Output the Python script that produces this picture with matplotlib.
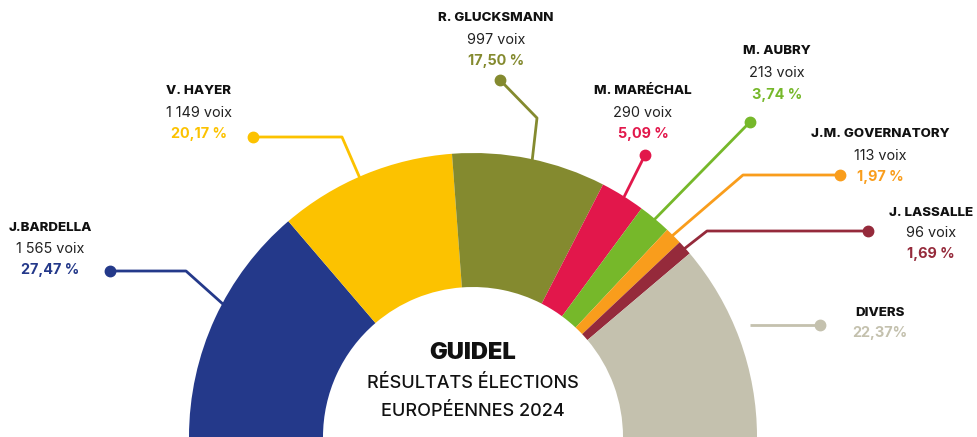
import matplotlib
matplotlib.use("Agg")
import matplotlib.pyplot as plt
from matplotlib.patches import Wedge

# ---- data ----
candidats = ["J.BARDELLA", "V. HAYER", "R. GLUCKSMANN", "M. MARÉCHAL",
             "M. AUBRY", "J.M. GOVERNATORY", "J. LASSALLE", "DIVERS"]
voix = ["1 565", "1 149", "997", "290", "213", "113", "96", None]
pourcentages = [27.47, 20.17, 17.50, 5.09, 3.74, 1.97, 1.69, 22.37]
pct_labels = ["27,47 %", "20,17 %", "17,50 %", "5,09 %", "3,74 %", "1,97 %", "1,69 %", "22,37%"]
couleurs = ["#24398a", "#fcc200", "#848a2f", "#e2174b", "#76b82a", "#f99d1c", "#952a3b", "#c4c1ae"]
titre = "GUIDEL"
sous_titre = ["RÉSULTATS ÉLECTIONS", "EUROPÉENNES 2024"]

W, H = 978, 437
fig = plt.figure(figsize=(W / 100, H / 100), dpi=100)
ax = fig.add_axes([0, 0, 1, 1])
ax.set_xlim(0, W)
ax.set_ylim(H, 0)  # image coordinates (y down)
ax.axis("off")

FONT = ["Inter", "DejaVu Sans"]

# ---- half donut ----
cx, cy = 473, 437
r_out, r_in = 284, 150
total = sum(pourcentages)
start = 180.0
for p, c in zip(pourcentages, couleurs):
    span = 180.0 * p / total
    t1 = -(start)
    t2 = -(start - span)
    ax.add_patch(Wedge((cx, cy), r_out, t1, t2, width=r_out - r_in,
                       facecolor=c, edgecolor="none", zorder=2))
    start -= span

# ---- leader lines (image px) ----
leaders = [
    [(110, 271), (186, 271), (224, 305)],
    [(253, 137), (342, 137), (362, 183)],
    [(500, 80), (537, 118), (532, 162)],
    [(645, 155), (624, 197)],
    [(750, 122), (651, 223)],
    [(840, 175), (743, 175), (672, 236)],
    [(868, 231), (707, 231), (684, 249)],
    [(820, 325), (750, 325)],
]
for pts, c in zip(leaders, couleurs):
    xs = [p[0] for p in pts]
    ys = [p[1] for p in pts]
    ax.plot(xs, ys, color=c, lw=2.0, zorder=1, solid_capstyle="butt")
    ax.plot(xs[0], ys[0], "o", color=c, ms=7.5, zorder=3)

# ---- labels ----
label_pos = [
    (50, 228, 249, 270),
    (199, 91, 113, 134),
    (496, 18, 40, 61),
    (643, 91, 113, 134),
    (777, 51, 73, 95),
    (880, 134, 156, 177),
    (931, 213, 233, 254),
    (880, 313, None, 333),
]
for (x, yn, yv, yp), nom, v, pl, c in zip(label_pos, candidats, voix, pct_labels, couleurs):
    ax.text(x, yn, nom, ha="center", va="center", fontsize=9.6,
            fontweight="heavy", color="#111111", family=FONT)
    if v is not None:
        ax.text(x, yv, f"{v} voix", ha="center", va="center", fontsize=10.4,
                color="#222222", family=FONT)
    ax.text(x, yp, pl, ha="center", va="center", fontsize=10.4,
            fontweight="bold", color=c, family=FONT)

ax.text(cx, 353, titre, ha="center", va="center", fontsize=17,
        fontweight="black", color="#111111", family=FONT)
ax.text(cx, 384, sous_titre[0], ha="center", va="center", fontsize=13,
        fontweight="medium", color="#111111", family=FONT)
ax.text(cx, 412, sous_titre[1], ha="center", va="center", fontsize=13,
        fontweight="medium", color="#111111", family=FONT)

fig.savefig("out.png", dpi=100, facecolor="white")
